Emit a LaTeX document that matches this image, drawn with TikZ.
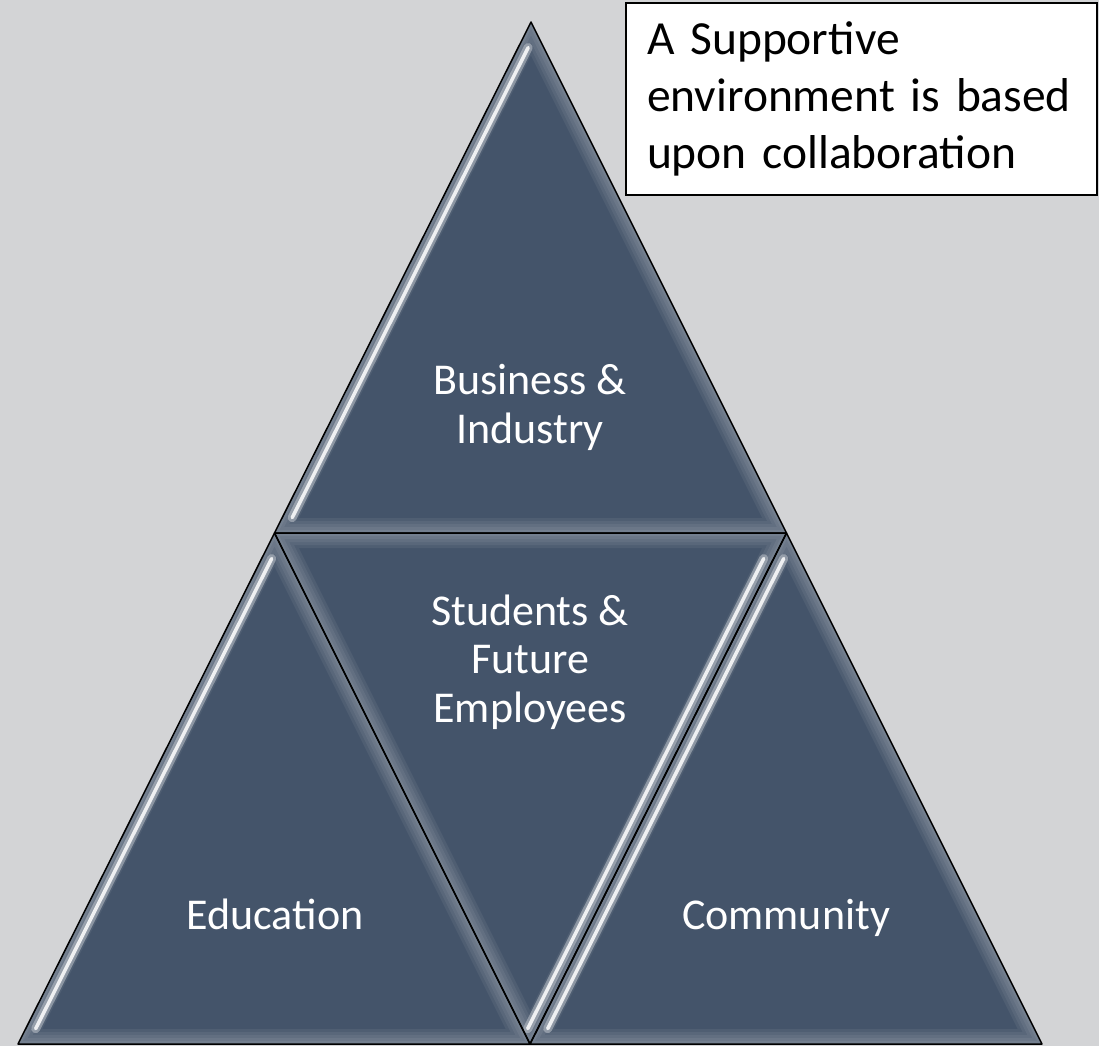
\documentclass[tikz,border=0pt]{standalone}
\usepackage{fontspec}
\setmainfont{Carlito}
\usetikzlibrary{calc}

\definecolor{slate}{RGB}{68,84,106}
\definecolor{paper}{RGB}{211,212,214}

\tikzset{
	block/.style={fill=slate},
	rim/.style={draw=black, line width=1.5pt, line join=round},
	glow/.style={white, opacity=0.06},
	shine/.style={white, line width=3.5pt, opacity=0.85, line cap=round},
	sheen/.style={slate!30!white, line width=9pt, opacity=0.5, line cap=round},
	tag/.style={text=white, align=center, inner sep=0pt, anchor=base,
		font=\fontsize{44}{48.5}\selectfont},
	notebox/.style={draw=black, line width=1.5pt, fill=white, align=left,
		text width=429pt, inner xsep=21pt, inner ysep=0pt,
		minimum width=471pt, minimum height=192pt,
		font=\fontsize{47.5}{57}\selectfont}
}

% one shaded facet of the pyramid
\newcommand{\facet}[3]{%
	\begin{scope}
		\clip (#1) -- (#2) -- (#3) -- cycle;
		\fill[block] (#1) -- (#2) -- (#3) -- cycle;
		\foreach \w in {30,24,18,12,6}
			\draw[glow, line width=\w pt] (#1) -- (#2) -- (#3) -- cycle;
	\end{scope}}

% light stripe along one edge, shifted sideways by #3
\newcommand{\bevelline}[3]{%
	\draw[sheen] ($(#1)!0.05!(#2)+(#3,0)$) -- ($(#1)!0.97!(#2)+(#3,0)$);
	\draw[shine] ($(#1)!0.05!(#2)+(#3,0)$) -- ($(#1)!0.97!(#2)+(#3,0)$);}

\begin{document}
\begin{tikzpicture}[x=1pt, y=-1pt]

	\fill[paper] (0,0) rectangle (1099,1046);
	\useasboundingbox (0,0) rectangle (1099,1046);

	\coordinate (T) at (531,22);
	\coordinate (ML) at (274.5,533);
	\coordinate (MR) at (786.5,533);
	\coordinate (L) at (18,1044);
	\coordinate (MB) at (530,1044);
	\coordinate (R) at (1042,1044);

	\facet{T}{ML}{MR}
	\facet{ML}{L}{MB}
	\facet{MR}{MB}{R}
	\facet{ML}{MR}{MB}

	\bevelline{T}{ML}{10}
	\bevelline{ML}{L}{10}
	\bevelline{MR}{MB}{10}
	\bevelline{MR}{MB}{-10}

	\draw[rim] (T) -- (ML) -- (MR) -- cycle;
	\draw[rim] (ML) -- (L) -- (MB) -- cycle;
	\draw[rim] (MR) -- (MB) -- (R) -- cycle;
	\draw[rim] (ML) -- (MR) -- (MB) -- cycle;

	% base anchor sits on the last line
	\node[tag] (business) at (530,443) {Business \&\\Industry};
	\node[tag] (students) at (530,722) {Students \&\\Future\\Employees};
	\node[tag] (education) at (275,929) {Education};
	\node[tag] (community) at (786,929) {Community};

	\node[notebox] (note) at (861.5,99) {A Supportive\\environment is based\\upon collaboration};

\end{tikzpicture}
\end{document}
